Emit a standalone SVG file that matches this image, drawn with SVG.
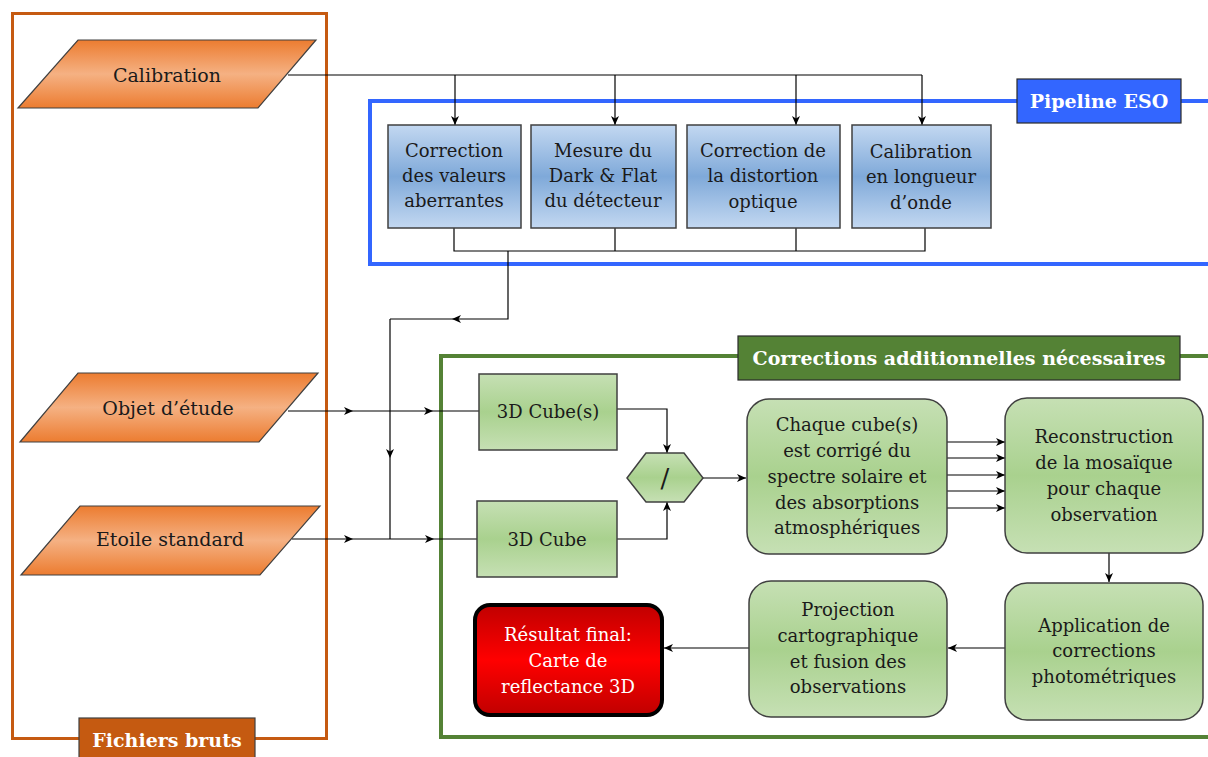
<svg xmlns="http://www.w3.org/2000/svg" width="1208" height="757" viewBox="0 0 1208 757">
<defs>
<linearGradient id="gOrange" x1="0" y1="0" x2="0" y2="1">
<stop offset="0" stop-color="#EC7C30"/><stop offset="0.5" stop-color="#F5B183"/><stop offset="1" stop-color="#EC7C30"/>
</linearGradient>
<linearGradient id="gBlue" x1="0" y1="0" x2="0" y2="1">
<stop offset="0" stop-color="#C3D8F1"/><stop offset="0.5" stop-color="#7FA9D9"/><stop offset="1" stop-color="#C3D8F1"/>
</linearGradient>
<linearGradient id="gGreen" x1="0" y1="0" x2="0" y2="1">
<stop offset="0" stop-color="#C6E0B4"/><stop offset="0.5" stop-color="#A9D18E"/><stop offset="1" stop-color="#C6E0B4"/>
</linearGradient>
<linearGradient id="gRed" x1="0" y1="0" x2="0" y2="1">
<stop offset="0" stop-color="#C00000"/><stop offset="0.5" stop-color="#FF0000"/><stop offset="1" stop-color="#C00000"/>
</linearGradient>
<marker id="arr" markerWidth="10" markerHeight="10" refX="9" refY="5" orient="auto" markerUnits="userSpaceOnUse">
<path d="M0,1 L9,5 L0,9 L2.5,5 z" fill="#000"/>
</marker>
<style>
text{font-family:"DejaVu Serif","Liberation Serif",serif;font-size:18px;fill:#1a1a1a;text-anchor:middle}
.lbl{fill:#fff;font-weight:bold;font-size:19px}
.para{fill:url(#gOrange);stroke:#404040;stroke-width:1.2}
.bbox{fill:url(#gBlue);stroke:#404040;stroke-width:1.5}
.gbox{fill:url(#gGreen);stroke:#404040;stroke-width:1.5}
.ln{fill:none;stroke:#000;stroke-width:1.2}
.ar{marker-end:url(#arr)}
.big{font-size:19px}
</style>
</defs>
<rect width="1208" height="757" fill="#fff"/>

<g id="frame-fichiers">
<rect x="12.5" y="13.5" width="314" height="725" fill="none" stroke="#C55A11" stroke-width="3"/>
<rect x="79" y="718" width="176" height="45" fill="#C55A11" stroke="#404040" stroke-width="1.2"/>
<text x="167" y="747" class="lbl">Fichiers bruts</text>
</g>

<g id="frame-pipeline">
<rect x="370" y="101" width="900" height="163" fill="none" stroke="#3366FF" stroke-width="4"/>
<rect x="1017" y="79" width="164" height="44" fill="#3366FF" stroke="#2a2a2a" stroke-width="1.2"/>
<text x="1099" y="108" class="lbl">Pipeline ESO</text>
</g>

<g id="frame-corrections">
<rect x="441" y="356" width="900" height="381" fill="none" stroke="#548235" stroke-width="4"/>
<rect x="738" y="336" width="442" height="44" fill="#548235" stroke="#2a2a2a" stroke-width="1.2"/>
<text x="959" y="365" class="lbl">Corrections additionnelles nécessaires</text>
</g>

<g id="connectors">
<path class="ln" d="M288,75 H922"/>
<path class="ln ar" d="M455,75 V125"/>
<path class="ln ar" d="M615,75 V125"/>
<path class="ln ar" d="M796,75 V125"/>
<path class="ln ar" d="M922,75 V125"/>
<path class="ln" d="M454,228 V251 H925 V228 M615,228 V251 M796,228 V251"/>
<path class="ln ar" d="M508,251 V319 H452"/>
<path class="ln" d="M452,319 H390"/>
<path class="ln ar" d="M390,319 V458"/>
<path class="ln" d="M390,458 V539"/>
<path class="ln ar" d="M288,411 H353"/>
<path class="ln ar" d="M353,411 H433"/>
<path class="ln" d="M433,411 H479"/>
<path class="ln ar" d="M292,539 H353"/>
<path class="ln ar" d="M353,539 H434"/>
<path class="ln" d="M434,539 H477"/>
<path class="ln ar" d="M617,409 H667 V453"/>
<path class="ln ar" d="M617,539 H667 V502"/>
<path class="ln ar" d="M703,478 H746"/>
<path class="ln ar" d="M947,442 H1005"/>
<path class="ln ar" d="M947,458 H1005"/>
<path class="ln ar" d="M947,475 H1005"/>
<path class="ln ar" d="M947,491 H1005"/>
<path class="ln ar" d="M947,508 H1005"/>
<path class="ln ar" d="M1109,553 V582"/>
<path class="ln ar" d="M1005,648 H948"/>
<path class="ln ar" d="M749,648 H664"/>
</g>

<g id="calibration">
<polygon class="para" points="78,40 316,40 258,108 18,108"/>
<text x="167" y="82" class="big">Calibration</text>
</g>
<g id="objet">
<polygon class="para" points="78,373 318,373 259,442 20,442"/>
<text x="168" y="415" class="big">Objet d’étude</text>
</g>
<g id="etoile">
<polygon class="para" points="80,506 320,506 260,575 21,575"/>
<text x="170" y="546" class="big">Etoile standard</text>
</g>

<g id="box-aberrantes">
<rect class="bbox" x="388" y="125" width="133" height="103"/>
<text x="454" y="157">Correction</text>
<text x="454" y="182">des valeurs</text>
<text x="454" y="207">aberrantes</text>
</g>
<g id="box-dark-flat">
<rect class="bbox" x="531" y="125" width="145" height="103"/>
<text x="603" y="157">Mesure du</text>
<text x="603" y="182">Dark &amp; Flat</text>
<text x="603" y="207">du détecteur</text>
</g>
<g id="box-distortion">
<rect class="bbox" x="687" y="125" width="153" height="103"/>
<text x="763" y="157">Correction de</text>
<text x="763" y="182">la distortion</text>
<text x="763" y="208">optique</text>
</g>
<g id="box-longueur">
<rect class="bbox" x="852" y="125" width="139" height="103"/>
<text x="921" y="158">Calibration</text>
<text x="921" y="183">en longueur</text>
<text x="921" y="209">d’onde</text>
</g>

<g id="cube-s">
<rect class="gbox" x="479" y="374" width="138" height="76"/>
<text x="548" y="418">3D Cube(s)</text>
</g>
<g id="cube">
<rect class="gbox" x="477" y="501" width="140" height="76"/>
<text x="547" y="546">3D Cube</text>
</g>
<g id="divide">
<polygon class="gbox" points="627,478 646,453 684,453 703,478 684,502 646,502"/>
<text x="665" y="487" style="font-size:26px">/</text>
</g>

<g id="chaque">
<rect class="gbox" x="747" y="399" width="200" height="155" rx="22"/>
<text x="847" y="431">Chaque cube(s)</text>
<text x="847" y="457">est corrigé du</text>
<text x="847" y="483">spectre solaire et</text>
<text x="847" y="509">des absorptions</text>
<text x="847" y="534">atmosphériques</text>
</g>
<g id="reconstruction">
<rect class="gbox" x="1005" y="398" width="198" height="155" rx="22"/>
<text x="1104" y="443">Reconstruction</text>
<text x="1104" y="469">de la mosaïque</text>
<text x="1104" y="495">pour chaque</text>
<text x="1104" y="521">observation</text>
</g>
<g id="application">
<rect class="gbox" x="1005" y="583" width="198" height="137" rx="22"/>
<text x="1104" y="632">Application de</text>
<text x="1104" y="657">corrections</text>
<text x="1104" y="683">photométriques</text>
</g>
<g id="projection">
<rect class="gbox" x="749" y="581" width="198" height="136" rx="22"/>
<text x="848" y="616">Projection</text>
<text x="848" y="642">cartographique</text>
<text x="848" y="668">et fusion des</text>
<text x="848" y="693">observations</text>
</g>
<g id="resultat">
<rect x="475" y="605" width="187" height="110" rx="15" fill="url(#gRed)" stroke="#000" stroke-width="4"/>
<text x="568" y="641" style="fill:#fff">Résultat final:</text>
<text x="568" y="667" style="fill:#fff">Carte de</text>
<text x="568" y="693" style="fill:#fff">reflectance 3D</text>
</g>
</svg>
